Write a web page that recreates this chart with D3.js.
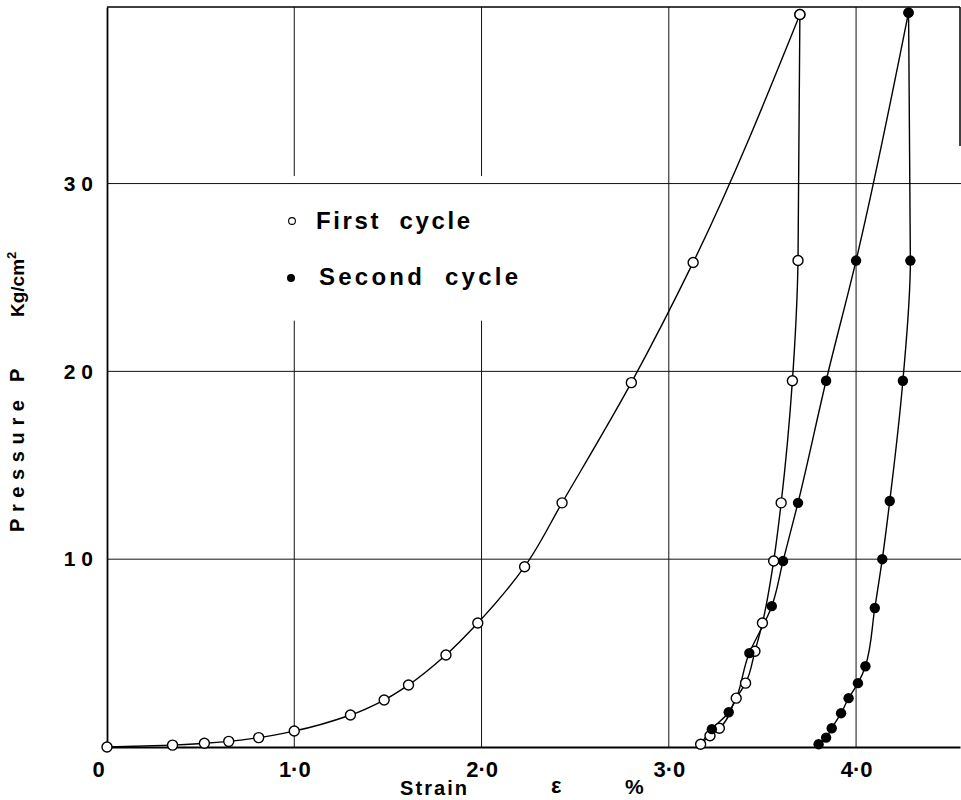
<!DOCTYPE html>
<html>
<head>
  <meta charset="utf-8">
  <title>Pressure vs strain, two cycles</title>
  <script src="https://d3js.org/d3.v7.min.js"></script>
  <style>
    body { margin: 0; background: #fff; }
    text { font-family: "Liberation Sans", Arial, sans-serif; font-weight: bold; fill: #000; }
  </style>
</head>
<body>
<script>

  // values (strain in %, pressure in Kg/cm2)
  var strain1Load   = [0, 0.35, 0.52, 0.65, 0.81, 1.0, 1.3, 1.48, 1.61, 1.81, 1.98, 2.23, 2.43, 2.8, 3.13, 3.7];
  var press1Load    = [0, 0.1, 0.2, 0.3, 0.5, 0.85, 1.7, 2.5, 3.3, 4.9, 6.6, 9.6, 13.0, 19.4, 25.8, 39.0];
  var strain1Unload = [3.7, 3.69, 3.66, 3.6, 3.56, 3.5, 3.46, 3.41, 3.36, 3.27, 3.22, 3.17];
  var press1Unload  = [39.0, 25.9, 19.5, 13.0, 9.9, 6.6, 5.1, 3.4, 2.6, 1.0, 0.6, 0.15];
  var strain2Load   = [3.23, 3.32, 3.43, 3.55, 3.61, 3.69, 3.84, 4.0, 4.28];
  var press2Load    = [0.95, 1.85, 5.0, 7.5, 9.9, 13.0, 19.5, 25.9, 39.1];
  var strain2Unload = [4.28, 4.29, 4.25, 4.18, 4.14, 4.1, 4.05, 4.01, 3.96, 3.92, 3.87, 3.84, 3.8];
  var press2Unload  = [39.1, 25.9, 19.5, 13.1, 10.0, 7.4, 4.3, 3.4, 2.6, 1.8, 1.0, 0.5, 0.15];

  var xTicks = [0, 1, 2, 3, 4];
  var xTickLabels = ["0", "1\u00b70", "2\u00b70", "3\u00b70", "4\u00b70"];
  var yTicks = [10, 20, 30];
  var yTickLabels = ["1 0", "2 0", "3 0"];
  var legendLabels = ["First  cycle", "Second  cycle"];

  var width = 961, height = 800;

  var x = d3.scaleLinear().domain([0, 4.555]).range([107, 960]);
  var y = d3.scaleLinear().domain([0, 39.4]).range([747, 7]);

  var svg = d3.select("body").append("svg")
      .attr("width", width)
      .attr("height", height);

  function zipPts(xs, ys) {
    return xs.map(function(v, i) { return {x: v, y: ys[i]}; });
  }

  var load1 = zipPts(strain1Load, press1Load);
  var unload1 = zipPts(strain1Unload, press1Unload);
  var load2 = zipPts(strain2Load, press2Load);
  var unload2 = zipPts(strain2Unload, press2Unload);

  // grid: vertical lines at 1.0 and 2.0 are broken around the legend
  var grid = svg.append("g").attr("stroke", "#111").attr("stroke-width", 1);
  xTicks.slice(1).forEach(function(t) {
    if (t <= 2) {
      grid.append("line").attr("x1", x(t)).attr("x2", x(t)).attr("y1", y(39.4)).attr("y2", y(30.4));
      grid.append("line").attr("x1", x(t)).attr("x2", x(t)).attr("y1", y(22.7)).attr("y2", y(0));
    } else {
      grid.append("line").attr("x1", x(t)).attr("x2", x(t)).attr("y1", y(39.4)).attr("y2", y(0));
    }
  });
  yTicks.forEach(function(t) {
    grid.append("line").attr("x1", x(0)).attr("x2", width).attr("y1", y(t)).attr("y2", y(t));
  });

  // frame: top edge and the short right edge
  svg.append("line").attr("x1", x(0)).attr("x2", x(4.555)).attr("y1", y(39.4)).attr("y2", y(39.4))
     .attr("stroke", "#000").attr("stroke-width", 1.5);
  svg.append("line").attr("x1", x(4.555)).attr("x2", x(4.555)).attr("y1", y(39.4)).attr("y2", y(32))
     .attr("stroke", "#000").attr("stroke-width", 1.5);

  // curves (sorted by pressure so the monotone spline behaves)
  var line = d3.line()
      .x(function(d) { return x(d.x); })
      .y(function(d) { return y(d.y); })
      .curve(d3.curveMonotoneY);

  function byP(a, b) { return a.y - b.y; }
  var curves = [
    load1.slice().sort(byP),
    unload1.slice().sort(byP),
    [unload1[unload1.length - 1]].concat(load2).sort(byP),
    unload2.slice().sort(byP)
  ];

  svg.append("g").selectAll("path")
    .data(curves)
    .enter().append("path")
    .attr("d", line)
    .attr("fill", "none")
    .attr("stroke", "#000")
    .attr("stroke-width", 1.4);

  // axes
  var xAxis = svg.append("g")
      .attr("transform", "translate(0," + y(0) + ")")
      .call(d3.axisBottom(x).tickValues(xTicks).tickSize(0).tickPadding(14)
        .tickFormat(function(d, i) { return xTickLabels[i]; }));
  xAxis.select(".domain").attr("stroke", "#000").attr("stroke-width", 2.2);
  xAxis.selectAll("text")
      .attr("font-size", 22)
      .attr("dx", function(d) { return d === 0 ? -9 : 0; })
      .style("font-family", "'Liberation Sans', Arial, sans-serif")
      .style("font-weight", "bold");

  var yAxis = svg.append("g")
      .attr("transform", "translate(" + x(0) + ",0)")
      .call(d3.axisLeft(y).tickValues(yTicks).tickSize(0).tickPadding(14)
        .tickFormat(function(d, i) { return yTickLabels[i]; }));
  yAxis.select(".domain").attr("stroke", "#000").attr("stroke-width", 1.8);
  yAxis.selectAll("text")
      .attr("font-size", 21)
      .style("font-family", "'Liberation Sans', Arial, sans-serif")
      .style("font-weight", "bold");

  // markers
  var marks = svg.append("g");
  marks.selectAll(".open")
    .data(load1.concat(unload1))
    .enter().append("circle")
    .attr("class", "open")
    .attr("cx", function(d) { return x(d.x); })
    .attr("cy", function(d) { return y(d.y); })
    .attr("r", 5)
    .attr("fill", "#fff")
    .attr("stroke", "#000")
    .attr("stroke-width", 1.4);
  marks.selectAll(".filled")
    .data(load2.concat(unload2))
    .enter().append("circle")
    .attr("class", "filled")
    .attr("cx", function(d) { return x(d.x); })
    .attr("cy", function(d) { return y(d.y); })
    .attr("r", 5.2)
    .attr("fill", "#000");

  // legend
  var legend = svg.append("g");
  legend.append("circle").attr("cx", 292).attr("cy", 221).attr("r", 3.4)
      .attr("fill", "#fff").attr("stroke", "#000").attr("stroke-width", 1.1);
  legend.append("circle").attr("cx", 291).attr("cy", 278).attr("r", 4).attr("fill", "#000");
  legend.append("text").attr("x", 316).attr("y", 229).attr("font-size", 24)
      .attr("textLength", 154).attr("lengthAdjust", "spacing")
      .style("white-space", "pre").text(legendLabels[0]);
  legend.append("text").attr("x", 319).attr("y", 285).attr("font-size", 24)
      .attr("textLength", 199).attr("lengthAdjust", "spacing")
      .style("white-space", "pre").text(legendLabels[1]);

  // axis titles
  svg.append("text").attr("x", 400).attr("y", 795).attr("font-size", 20)
      .attr("textLength", 67).attr("lengthAdjust", "spacing").text("Strain");
  svg.append("text").attr("x", 551).attr("y", 793).attr("font-size", 22).text("\u03b5");
  svg.append("text").attr("x", 625).attr("y", 794).attr("font-size", 21).text("%");

  svg.append("text").attr("transform", "translate(24,532) rotate(-90)").attr("font-size", 20)
      .attr("textLength", 132).attr("lengthAdjust", "spacing").text("Pressure");
  svg.append("text").attr("transform", "translate(24,382) rotate(-90)").attr("font-size", 20).text("P");

  var unit = svg.append("text").attr("transform", "translate(24,317) rotate(-90)").attr("font-size", 19);
  unit.append("tspan").text("Kg/cm");
  unit.append("tspan").attr("font-size", 13).attr("dy", -8).text("2");

</script>
</body>
</html>
